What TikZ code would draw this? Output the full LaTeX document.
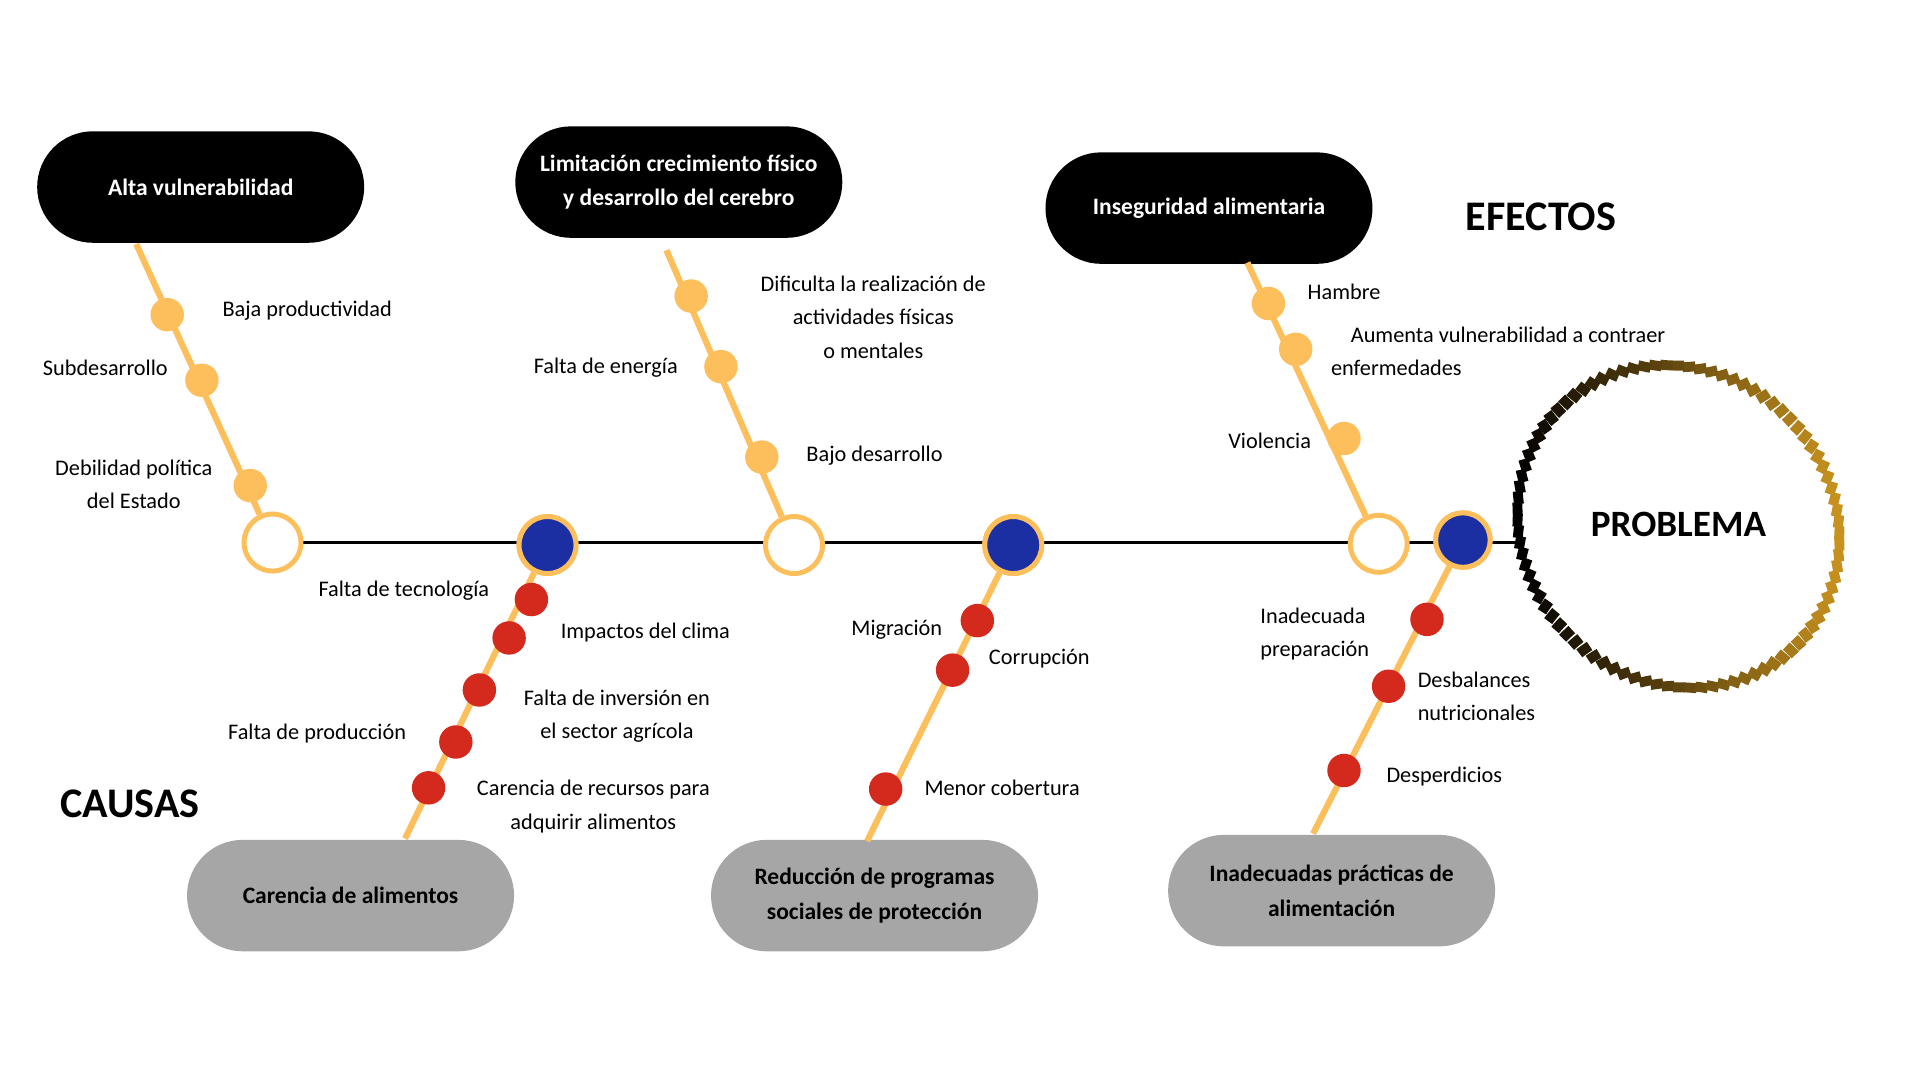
\documentclass[tikz,border=0pt]{standalone}
\usepackage{fontspec}
\setmainfont{Carlito}
\usetikzlibrary{positioning}
\definecolor{naranja}{HTML}{FDBE5C}
\definecolor{rojo}{HTML}{D42A1E}
\definecolor{azul}{HTML}{1B2FA3}
\definecolor{gris}{HTML}{A6A6A6}
\definecolor{oro}{HTML}{C8921E}
\tikzset{
  efecto/.style={rounded corners=45pt, fill=black, text=white, minimum width=264pt, minimum height=90pt, align=center, font=\fontsize{19}{28}\selectfont\bfseries},
  causa/.style={efecto, fill=gris, text=black},
  hueco/.style={circle, draw=naranja, line width=4pt, fill=white, minimum size=46pt, inner sep=0pt},
  nudo/.style={hueco, fill=azul},
  punto/.style={circle, fill=naranja, minimum size=27pt, inner sep=0pt},
  rojito/.style={punto, fill=rojo},
  rama/.style={naranja, line width=5pt},
  etiqueta/.style={font=\fontsize{18}{27}\selectfont, align=center},
}
\begin{document}
\begin{tikzpicture}[x=1pt, y=-1pt]
\useasboundingbox (0,0) rectangle (1550,872);

% espina principal
\coordinate (inicio) at (245,438);
\coordinate (fin) at (1228,438);
\draw[line width=3pt] (inicio) -- (fin);

% problema
\foreach \a in {0,4,...,356}{
  \pgfmathsetmacro{\p}{50+50*cos(\a)}
  \draw[oro!\p!black, line width=8pt] ({1355+130*cos(\a)},{425-130*sin(\a)}) arc[start angle=\a, end angle=\a+4.5, radius=130];
}
\node[font=\fontsize{30}{36}\selectfont\bfseries] (problema) at (1355,423) {PROBLEMA};

% efectos
\node[efecto] (e1) at (162,151) {Alta vulnerabilidad};
\node[efecto] (e2) at (548,147) {Limitación crecimiento físico\\y desarrollo del cerebro};
\node[efecto] (e3) at (976,168) {Inseguridad alimentaria};
\node[font=\fontsize{34}{40}\selectfont\bfseries] (efectos) at (1244,175) {EFECTOS};

\coordinate (a1) at (110,197);
\coordinate (a2) at (538,202);
\coordinate (a3) at (1007,212);
\node[hueco] (h1) at (220,438) {};
\node[hueco] (h2) at (641,440) {};
\node[hueco] (h3) at (1113,439) {};
\draw[rama] (a1) -- (h1);
\draw[rama] (a2) -- (h2);
\draw[rama] (a3) -- (h3);

\node[punto] (p11) at (135,254) {};
\node[punto] (p12) at (163,307) {};
\node[punto] (p13) at (202,392) {};
\node[punto] (p21) at (558,239) {};
\node[punto] (p22) at (582,296) {};
\node[punto] (p23) at (615,369) {};
\node[punto] (p31) at (1024,245) {};
\node[punto] (p32) at (1046,282) {};
\node[punto] (p33) at (1085,354) {};

\node[etiqueta] at (248,251) {Baja productividad};
\node[etiqueta] at (85,297) {Subdesarrollo};
\node[etiqueta] at (108,391) {Debilidad política\\del Estado};
\node[etiqueta] at (705,256) {Dificulta la realización de\\actividades físicas\\o mentales};
\node[etiqueta] at (489,297) {Falta de energía};
\node[etiqueta] at (706,368) {Bajo desarrollo};
\node[etiqueta] at (1085,236) {Hambre};
\node[etiqueta, anchor=west] at (1087,270) {Aumenta vulnerabilidad a contraer};
\node[etiqueta, anchor=west] at (1071,297) {enfermedades};
\node[etiqueta] at (1025,356) {Violencia};

% causas
\node[causa] (c1) at (283,723) {Carencia de alimentos};
\node[causa] (c2) at (706,723) {Reducción de programas\\sociales de protección};
\node[causa] (c3) at (1075,719) {Inadecuadas prácticas de\\alimentación};
\node[font=\fontsize{34}{40}\selectfont\bfseries] (causas) at (105,649) {CAUSAS};

\coordinate (b1) at (327,677);
\coordinate (b2) at (700,679);
\coordinate (b3) at (1060,673);
\node[nudo] (n1) at (442,440) {};
\node[nudo] (n2) at (818,440) {};
\node[nudo, minimum size=44pt] (n3) at (1181,436) {};
\draw[rama] (b1) -- (n1);
\draw[rama] (b2) -- (n2);
\draw[rama] (b3) -- (n3);
\node[nudo] at (442,440) {};
\node[nudo] at (818,440) {};
\node[nudo, minimum size=44pt] at (1181,436) {};

\node[rojito] (r11) at (429,484) {};
\node[rojito] (r12) at (411,515) {};
\node[rojito] (r13) at (387,557) {};
\node[rojito] (r14) at (368,599) {};
\node[rojito] (r15) at (346,636) {};
\node[rojito] (r21) at (789,501) {};
\node[rojito] (r22) at (769,541) {};
\node[rojito] (r23) at (715,637) {};
\node[rojito] (r31) at (1152,500) {};
\node[rojito] (r32) at (1121,554) {};
\node[rojito] (r33) at (1085,622) {};

\node[etiqueta] at (326,477) {Falta de tecnología};
\node[etiqueta] at (521,511) {Impactos del clima};
\node[etiqueta] at (498,578) {Falta de inversión en\\el sector agrícola};
\node[etiqueta] at (256,592) {Falta de producción};
\node[etiqueta] at (479,651) {Carencia de recursos para\\adquirir alimentos};
\node[etiqueta] at (724,508) {Migración};
\node[etiqueta] at (839,532) {Corrupción};
\node[etiqueta] at (809,636) {Menor cobertura};
\node[etiqueta, align=left, anchor=west] at (1014,512) {Inadecuada\\preparación};
\node[etiqueta, align=left, anchor=west] at (1141,562) {Desbalances\\nutricionales};
\node[etiqueta] at (1166,627) {Desperdicios};
\end{tikzpicture}
\end{document}
